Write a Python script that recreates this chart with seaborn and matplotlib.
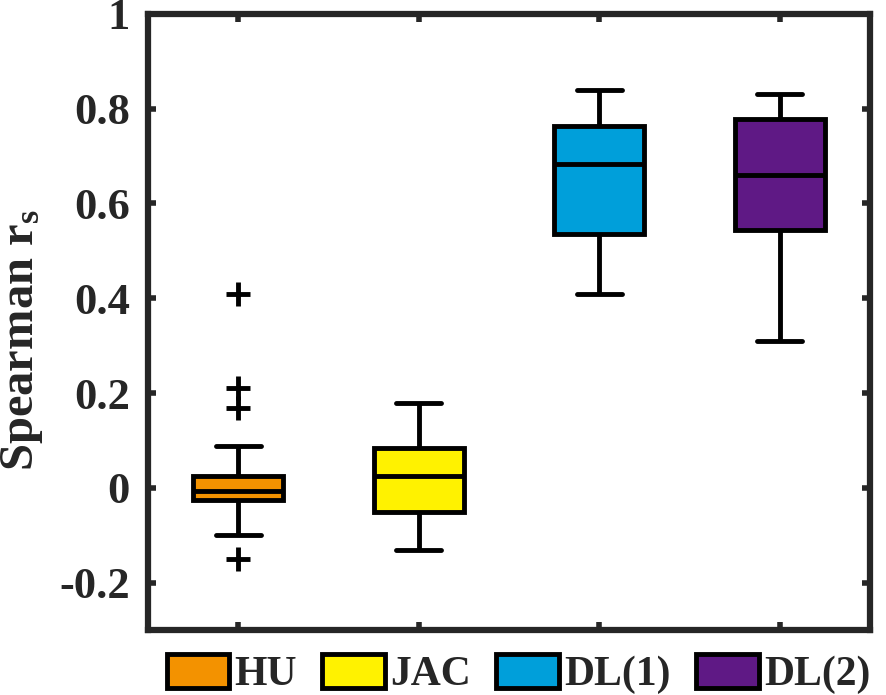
import seaborn as sns
import matplotlib.pyplot as plt
import pandas as pd
from matplotlib.patches import Patch

# values (whisker ends, quartiles, medians, outliers)
methods = ["HU", "JAC", "DL(1)", "DL(2)"]
colors = ["#F39200", "#FFF200", "#009FDA", "#5F1985"]

hu_rs = [-0.151, -0.100, -0.060, -0.040, -0.026, -0.020, -0.015, -0.010,
         -0.007, 0.000, 0.008, 0.016, 0.024, 0.089, 0.168, 0.210, 0.409]
jac_rs = [-0.132, -0.052, 0.024, 0.083, 0.178]
dl1_rs = [0.409, 0.535, 0.684, 0.764, 0.839]
dl2_rs = [0.309, 0.544, 0.660, 0.778, 0.830]

ytick_values = [-0.2, 0, 0.2, 0.4, 0.6, 0.8, 1]
ytick_labels = ["-0.2", "0", "0.2", "0.4", "0.6", "0.8", "1"]


def main():
    sns.set_style("ticks")
    plt.rcParams["font.family"] = ["Liberation Serif", "DejaVu Serif"]
    plt.rcParams["font.weight"] = "bold"
    plt.rcParams["axes.unicode_minus"] = False
    plt.rcParams["mathtext.fontset"] = "custom"
    plt.rcParams["mathtext.rm"] = "Liberation Serif:bold"
    plt.rcParams["mathtext.it"] = "Liberation Serif:bold"
    plt.rcParams["mathtext.bf"] = "Liberation Serif:bold"

    rows = []
    for name, vals in zip(methods, [hu_rs, jac_rs, dl1_rs, dl2_rs]):
        rows += [(name, v) for v in vals]
    df = pd.DataFrame(rows, columns=["method", "rs"])

    fig, ax = plt.subplots(figsize=(8.86, 6.95), dpi=100)
    fig.subplots_adjust(left=0.167, right=0.982, bottom=0.0935, top=0.98)

    lw = 3.5
    sns.boxplot(data=df, x="method", y="rs", hue="method", order=methods,
                hue_order=methods, palette=colors, saturation=1, width=0.5,
                linewidth=lw, linecolor="black", legend=False, ax=ax,
                flierprops=dict(marker="+", markersize=17, markeredgewidth=3.5,
                                markeredgecolor="black"))

    ax.set_xlim(-0.5, 3.5)
    ax.set_ylim(-0.3, 1)
    ax.set_yticks(ytick_values)
    ax.set_yticklabels(ytick_labels)
    ax.set_xticks(range(len(methods)))
    ax.set_xticklabels([])
    ax.set_xlabel("")
    ax.set_ylabel("Spearman r$_\\mathrm{s}$", fontsize=35, fontweight="bold")
    ax.yaxis.set_label_coords(-0.143, 0.47)
    ax.tick_params(axis="both", direction="in", length=6, width=4,
                   color="#262626", top=True, right=True)
    ax.tick_params(axis="y", labelsize=32, pad=13)
    for sp in ax.spines.values():
        sp.set_visible(True)
        sp.set_linewidth(4.5)
        sp.set_color("#262626")

    handles = [Patch(facecolor=c, edgecolor="black", linewidth=lw) for c in colors]
    fig.legend(handles, methods, loc="center left", bbox_to_anchor=(0.188, 0.030),
               ncol=4, frameon=False, fontsize=30, handlelength=1.5,
               handleheight=0.9, handletextpad=0.12, columnspacing=0.62,
               borderaxespad=0, borderpad=0)

    fig.savefig("out.png", dpi=100)


if __name__ == '__main__':
    main()
